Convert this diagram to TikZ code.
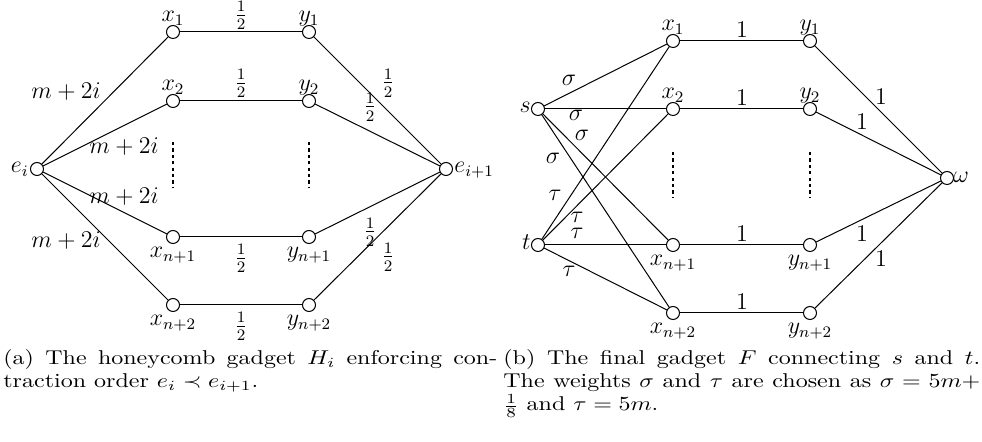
\documentclass[tikz,border=0pt]{standalone}
\usepackage{graphicx}
\tikzset{
  vtx/.style={circle, draw, fill=white, inner sep=0pt, minimum size=6.5pt, line width=0.5pt},
  lbl/.style={inner sep=0pt, font=\fontsize{12}{12}\selectfont},
  ed/.style={line width=0.5pt},
  vdots/.style={line width=1.1pt, dash pattern=on 1.6pt off 1.6pt},
  captext/.style={inner sep=0pt, anchor=base west, font=\fontsize{10}{11.5}\selectfont},
}
\newcommand\hf{$\frac{1}{2}$}
\begin{document}
\begin{tikzpicture}[x=0.5pt,y=-0.5pt]
\useasboundingbox (0,0) rectangle (982,442);
% ---------- left gadget ----------
\node[vtx] (ei) at (37,169) {};
\node[vtx] (ax1) at (173,32) {};
\node[vtx] (ax2) at (173,101) {};
\node[vtx] (axn1) at (173,237) {};
\node[vtx] (axn2) at (173,305) {};
\node[vtx] (ay1) at (309,32) {};
\node[vtx] (ay2) at (309,101) {};
\node[vtx] (ayn1) at (309,237) {};
\node[vtx] (ayn2) at (309,305) {};
\node[vtx] (ej) at (446,169) {};
\foreach \a in {ax1,ax2,axn1,axn2} \draw[ed] (ei) -- (\a);
\foreach \a/\b in {ax1/ay1,ax2/ay2,axn1/ayn1,axn2/ayn2} \draw[ed] (\a) -- (\b);
\foreach \a in {ay1,ay2,ayn1,ayn2} \draw[ed] (\a) -- (ej);
\coordinate (ad1a) at (173,142); \coordinate (ad1b) at (173,188);
\coordinate (ad2a) at (309,142); \coordinate (ad2b) at (309,188);
\draw[vdots] (ad1a) -- (ad1b);
\draw[vdots] (ad2a) -- (ad2b);
\node[lbl,anchor=base east] (lei) at (29,173) {$e_i$};
\node[lbl,anchor=base west] (lej) at (454,173) {$e_{i+1}$};
\node[lbl,anchor=base] (lax1) at (173,22) {$x_1$};
\node[lbl,anchor=base] (lax2) at (173,91) {$x_2$};
\node[lbl,anchor=base] (laxn1) at (173,258) {$x_{n+1}$};
\node[lbl,anchor=base] (laxn2) at (173,326) {$x_{n+2}$};
\node[lbl,anchor=base] (lay1) at (309,22) {$y_1$};
\node[lbl,anchor=base] (lay2) at (309,91) {$y_2$};
\node[lbl,anchor=base] (layn1) at (309,258) {$y_{n+1}$};
\node[lbl,anchor=base] (layn2) at (309,326) {$y_{n+2}$};
\node[lbl,anchor=south] (ah1) at (241,30) {\hf};
\node[lbl,anchor=south] (ah2) at (241,98) {\hf};
\node[lbl,anchor=north] (ah3) at (241,244) {\hf};
\node[lbl,anchor=north] (ah4) at (241,312) {\hf};
\node[lbl] (am1) at (66,92) {$m+2i$};
\node[lbl] (am2) at (124,147) {$m+2i$};
\node[lbl] (am3) at (124,197) {$m+2i$};
\node[lbl] (am4) at (66,241) {$m+2i$};
\node[lbl] (ar1) at (388,83) {\hf};
\node[lbl] (ar2) at (370,107) {\hf};
\node[lbl] (ar3) at (370,232) {\hf};
\node[lbl] (ar4) at (388,257) {\hf};
% ---------- right gadget ----------
\node[vtx] (s) at (538,109) {};
\node[vtx] (t) at (538,245) {};
\node[vtx] (bx1) at (673,41) {};
\node[vtx] (bx2) at (673,109) {};
\node[vtx] (bxn1) at (673,245) {};
\node[vtx] (bxn2) at (673,313) {};
\node[vtx] (by1) at (810,41) {};
\node[vtx] (by2) at (810,109) {};
\node[vtx] (byn1) at (810,245) {};
\node[vtx] (byn2) at (810,313) {};
\node[vtx] (om) at (947,178) {};
\foreach \a in {bx1,bx2,bxn1,bxn2} {\draw[ed] (s) -- (\a); \draw[ed] (t) -- (\a);}
\foreach \a/\b in {bx1/by1,bx2/by2,bxn1/byn1,bxn2/byn2} \draw[ed] (\a) -- (\b);
\foreach \a in {by1,by2,byn1,byn2} \draw[ed] (\a) -- (om);
\coordinate (bd1a) at (673,152); \coordinate (bd1b) at (673,197);
\coordinate (bd2a) at (810,152); \coordinate (bd2b) at (810,197);
\draw[vdots] (bd1a) -- (bd1b);
\draw[vdots] (bd2a) -- (bd2b);
\node[lbl,anchor=base east] (ls) at (531,113) {$s$};
\node[lbl,anchor=base east] (lt) at (531,250) {$t$};
\node[lbl,anchor=base west] (lom) at (953,183) {$\omega$};
\node[lbl,anchor=base] (lbx1) at (673,31) {$x_1$};
\node[lbl,anchor=base] (lbx2) at (673,99) {$x_2$};
\node[lbl,anchor=base] (lbxn1) at (673,266) {$x_{n+1}$};
\node[lbl,anchor=base] (lbxn2) at (673,334) {$x_{n+2}$};
\node[lbl,anchor=base] (lby1) at (810,31) {$y_1$};
\node[lbl,anchor=base] (lby2) at (810,99) {$y_2$};
\node[lbl,anchor=base] (lbyn1) at (810,266) {$y_{n+1}$};
\node[lbl,anchor=base] (lbyn2) at (810,334) {$y_{n+2}$};
\node[lbl] (sg1) at (569,80) {$\sigma$};
\node[lbl] (sg2) at (576,115) {$\sigma$};
\node[lbl] (sg3) at (582,135) {$\sigma$};
\node[lbl] (sg4) at (553,158) {$\sigma$};
\node[lbl] (ta1) at (555,195) {$\tau$};
\node[lbl] (ta2) at (577,217) {$\tau$};
\node[lbl] (ta3) at (577,233) {$\tau$};
\node[lbl] (ta4) at (569,271) {$\tau$};
\node[lbl,anchor=base] (w1) at (742,38) {1};
\node[lbl,anchor=base] (w2) at (742,106) {1};
\node[lbl,anchor=base] (w3) at (742,242) {1};
\node[lbl,anchor=base] (w4) at (742,310) {1};
\node[lbl] (w5) at (881,97) {1};
\node[lbl] (w6) at (862,122) {1};
\node[lbl] (w7) at (862,234) {1};
\node[lbl] (w8) at (881,259) {1};
% ---------- captions ----------
\node[captext] (capa) at (3,365) {\scalebox{1.2}[1]{\parbox[t]{205.8pt}{(a) The honeycomb gadget $H_i$ enforcing con-\linebreak traction order $e_i \prec e_{i+1}$.}}};
\node[captext] (capb) at (503,365) {\scalebox{1.2}[1]{\parbox[t]{198.7pt}{(b) The final gadget $F$ connecting $s$ and $t$.\linebreak The weights $\sigma$ and $\tau$ are chosen as $\sigma = 5m+$\linebreak $\frac{1}{8}$ and $\tau = 5m$.}}};
\end{tikzpicture}
\end{document}
